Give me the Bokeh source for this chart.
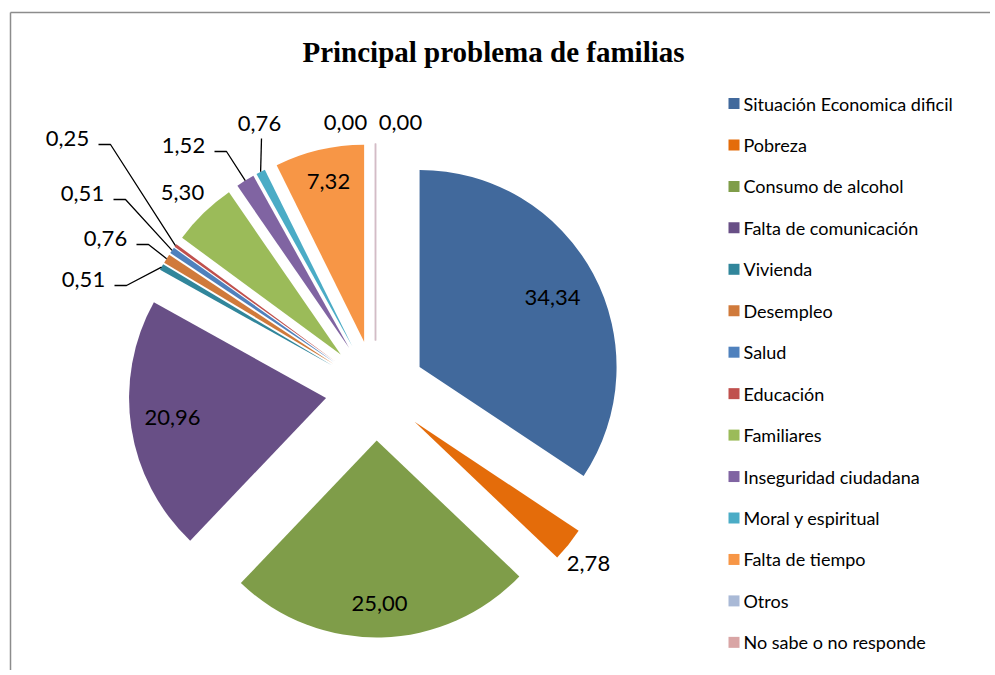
import math
from bokeh.plotting import figure
from bokeh.models import Range1d
from bokeh.core.properties import value
from bokeh.embed import file_html
from bokeh.resources import INLINE

# ---------------- data ----------------
categories = ["Situación Economica dificil", "Pobreza", "Consumo  de alcohol",
              "Falta de comunicación", "Vivienda", "Desempleo", "Salud", "Educación",
              "Familiares", "Inseguridad ciudadana", "Moral y espiritual",
              "Falta de tiempo", "Otros", "No  sabe o no responde"]
values = [34.34, 2.78, 25.00, 20.96, 0.51, 0.76, 0.51, 0.25, 5.30, 1.52, 0.76, 7.32, 0.00, 0.00]
labels = ["34,34", "2,78", "25,00", "20,96", "0,51", "0,76", "0,51", "0,25",
          "5,30", "1,52", "0,76", "7,32", "0,00", "0,00"]
colors = ["#41699C", "#E46C0A", "#7F9D49", "#684F86", "#31869B", "#D07A3B",
          "#4F81BD", "#C0504D", "#9BBB59", "#8064A2", "#4BACC6", "#F79646",
          "#A9B9D6", "#D9A5A5"]
title = "Principal problema de familias"

# ---------------- layout (screen px) ----------------
W, H = 990, 670
CX, CY = 375, 390          # pie centre (screen)
R = 197                    # radius
EXPLODE = 50               # explosion offset
# label anchor positions (screen px) and leader style
label_xy = [(552, 297), (588, 563), (379, 603), (172, 417), (83, 279), (105, 238),
            (82, 193), (67, 138), (182, 192), (183, 145), (259, 123), (328, 181),
            (345, 122), (400, 122)]
leader = [None, None, None, None, "left", "left", "left", "left", None, "left",
          "below", None, None, None]

def sy(y):  # screen y -> data y
    return 675 - y

p = figure(width=W, height=H, x_range=Range1d(0, W), y_range=Range1d(675 - H, 675),
           output_backend="svg", toolbar_location=None, min_border=0)
p.axis.visible = False
p.grid.visible = False
p.outline_line_color = None
p.background_fill_color = "white"

# frame
p.line([10, 1000], [sy(12), sy(12)], line_color="#8C8C8C", line_width=1.5)
p.line([10, 10], [sy(12), sy(700)], line_color="#8C8C8C", line_width=1.5)

# title
p.text(x=[493], y=[sy(51)], text=[title], text_font=value("Liberation Serif"),
       text_font_style="bold", text_font_size="29px", text_align="center",
       text_baseline="middle", text_color="black")

# pie
total = sum(values)
acc = 0.0
wx, wy, ws, we, wc = [], [], [], [], []
zx0, zy0, zx1, zy1 = [], [], [], []
tips = []
for v, c in zip(values, colors):
    a0 = acc / total * 360.0
    acc += v
    a1 = acc / total * 360.0
    bis = math.radians((a0 + a1) / 2)
    ex = CX + EXPLODE * math.sin(bis)
    ey = sy(CY) + EXPLODE * math.cos(bis)
    tips.append((CX + (EXPLODE + R) * math.sin(bis), sy(CY) + (EXPLODE + R) * math.cos(bis)))
    if v > 0:
        wx.append(ex); wy.append(ey)
        ws.append(math.radians(90 - a0)); we.append(math.radians(90 - a1)); wc.append(c)
    else:
        zx0.append(ex); zy0.append(ey)
        zx1.append(ex + R * math.sin(bis)); zy1.append(ey + R * math.cos(bis))

p.wedge(x=wx, y=wy, radius=R, start_angle=ws, end_angle=we, direction="clock",
        fill_color=wc, line_color=None)
p.segment(x0=zx0, y0=zy0, x1=zx1, y1=zy1, line_color="#D3BCC6", line_width=1.5)

# leader lines
for (lx, ly), style, (tx, ty) in zip(label_xy, leader, tips):
    if style == "left":
        p.line([lx + 31, lx + 43, tx], [sy(ly + 6), sy(ly + 6), ty],
               line_color="black", line_width=1.3)
    elif style == "below":
        p.line([lx + 2, tx], [sy(ly + 15), ty], line_color="black", line_width=1.3)

p.text(x=[xy[0] for xy in label_xy], y=[sy(xy[1]) for xy in label_xy], text=labels,
       text_font=value("Lato"), text_font_size="22px", text_align="center",
       text_baseline="middle", text_color="black")

# legend
lg_y = [sy(103 + i * 41.45) for i in range(len(categories))]
p.rect(x=[733.5] * len(categories), y=lg_y, width=11, height=11,
       fill_color=colors, line_color=None)
p.text(x=[743] * len(categories), y=lg_y, text=categories, text_font=value("Lato"),
       text_font_size="18px", text_align="left", text_baseline="middle",
       text_color="black")

open("out.html", "w").write(file_html(p, INLINE))
